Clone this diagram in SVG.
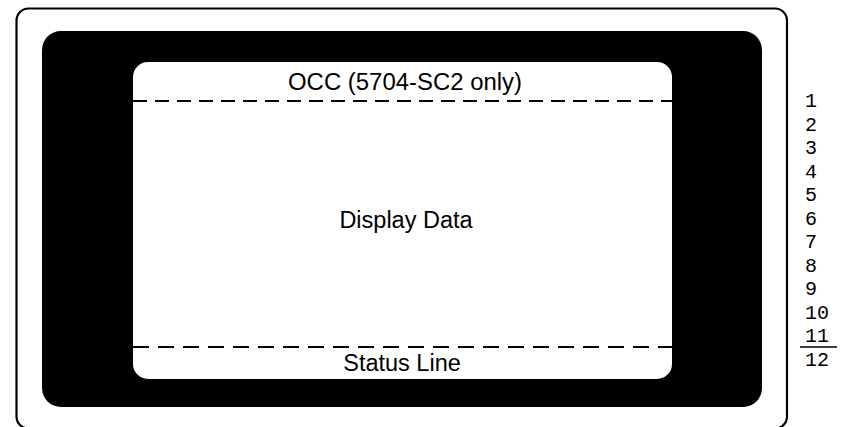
<svg xmlns="http://www.w3.org/2000/svg" width="843" height="427" viewBox="0 0 843 427">
<style>
.lbl{font-family:"Liberation Sans",Arial,sans-serif;font-size:23.5px;fill:#000;text-anchor:middle}
.num{font-family:"Liberation Mono","Courier New",monospace;font-size:20px;fill:#000}
.dash{stroke:#000;stroke-width:2;fill:none}
</style>
<rect width="843" height="427" fill="#fff"/>
<g id="frame">
<rect x="16.5" y="8.5" width="770.5" height="420" rx="12" fill="none" stroke="#000" stroke-width="2.2"/>
</g>
<g id="bezel">
<rect x="42" y="31" width="720" height="376" rx="19" fill="#000"/>
</g>
<g id="screen">
<rect x="133" y="62" width="539" height="317" rx="15" fill="#fff"/>
</g>
<g id="occ">
<text class="lbl" x="405" y="90" textLength="234" lengthAdjust="spacingAndGlyphs">OCC (5704-SC2 only)</text>
</g>
<g id="display">
<text class="lbl" x="406" y="228">Display Data</text>
</g>
<g id="status">
<text class="lbl" x="402" y="371">Status Line</text>
</g>
<g id="connectors">
<line class="dash" x1="133" y1="101" x2="672" y2="101" stroke-dasharray="14 8"/>
<line class="dash" x1="133" y1="347" x2="672" y2="347" stroke-dasharray="16 9"/>
<line x1="800" y1="347" x2="837" y2="347" stroke="#000" stroke-width="1.6"/>
</g>
<g id="rows">
<text class="num" x="805" y="107">1</text>
<text class="num" x="805" y="130.5">2</text>
<text class="num" x="805" y="154">3</text>
<text class="num" x="805" y="177.5">4</text>
<text class="num" x="805" y="201">5</text>
<text class="num" x="805" y="224.5">6</text>
<text class="num" x="805" y="248">7</text>
<text class="num" x="805" y="271.5">8</text>
<text class="num" x="805" y="295">9</text>
<text class="num" x="805" y="318.5">10</text>
<text class="num" x="805" y="342">11</text>
<text class="num" x="805" y="365.5">12</text>
</g>
</svg>
